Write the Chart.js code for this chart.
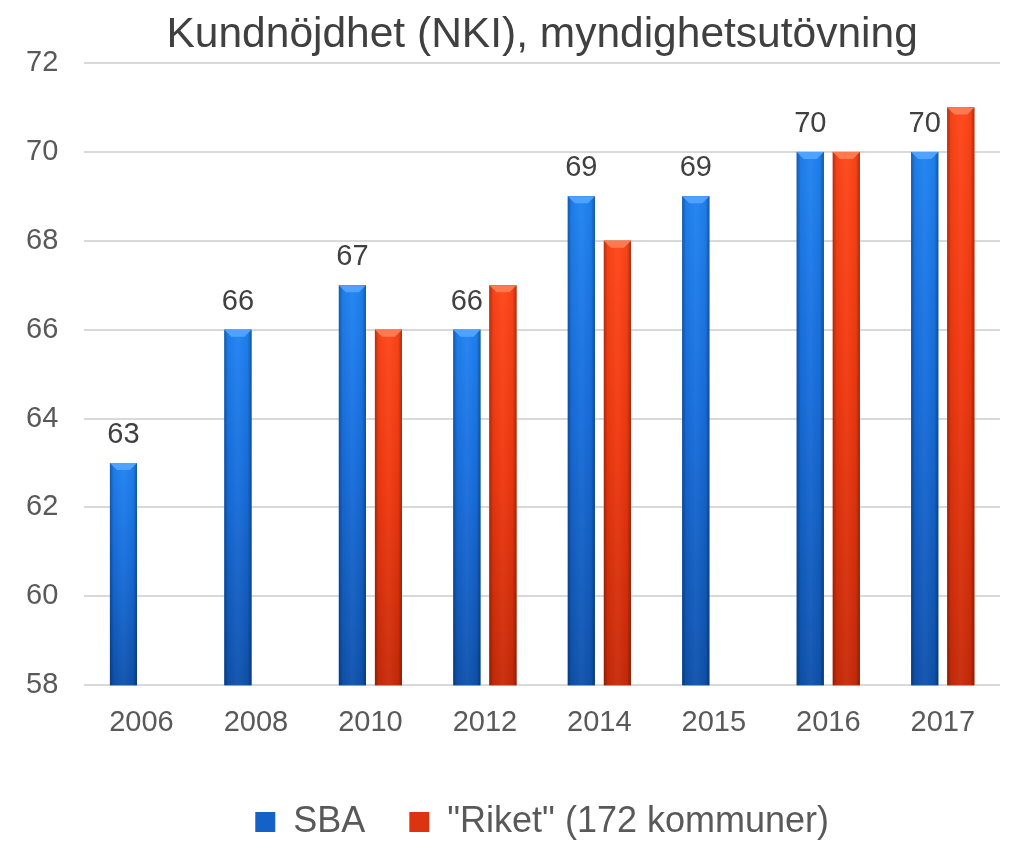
<!DOCTYPE html>
<html>
<head>
<meta charset="utf-8">
<script src="https://cdn.jsdelivr.net/npm/chart.js@4.4.0/dist/chart.umd.min.js"></script>
<style>
  html, body { margin: 0; padding: 0; background: #fff; }
  #wrap { width: 1012px; height: 842px; }
</style>
</head>
<body>
<div id="wrap"><canvas id="myChart" width="1012" height="842"></canvas></div>
<script>
const years = ['2006', '2008', '2010', '2012', '2014', '2015', '2016', '2017'];
const sbaValues = [63, 66, 67, 66, 69, 69, 70, 70];
const riketValues = [null, null, 66, 67, 68, null, 70, 71];
const yTicks = [58, 60, 62, 64, 66, 68, 70, 72];

const palette = [
  { top: '#1f82f2', mid: '#176ddc', bottom: '#0e52ad', bevel: '#4fa2ff' },
  { top: '#ff4518', mid: '#f0380f', bottom: '#c82a08', bevel: '#ff7a50' }
];

// paints the bars with a glossy gradient and a bevelled top
const bevelBars = {
  id: 'bevelBars',
  afterDatasetsDraw(chart) {
    const ctx = chart.ctx;
    const area = chart.chartArea;
    chart.data.datasets.forEach((ds, di) => {
      const meta = chart.getDatasetMeta(di);
      const c = palette[di];
      meta.data.forEach((bar, i) => {
        if (ds.data[i] == null) return;
        const w = bar.width, left = bar.x - w / 2, top = bar.y;
        const base = Math.min(bar.base, area.bottom);
        ctx.save();
        let g = ctx.createLinearGradient(0, top, 0, base);
        g.addColorStop(0, c.top);
        g.addColorStop(0.45, c.mid);
        g.addColorStop(1, c.bottom);
        ctx.fillStyle = g;
        ctx.fillRect(left, top, w, base - top);
        let h = ctx.createLinearGradient(left, 0, left + w, 0);
        h.addColorStop(0, 'rgba(0,0,0,0.3)');
        h.addColorStop(0.14, 'rgba(0,0,0,0.04)');
        h.addColorStop(0.5, 'rgba(255,255,255,0.04)');
        h.addColorStop(0.86, 'rgba(0,0,0,0.04)');
        h.addColorStop(1, 'rgba(0,0,0,0.32)');
        ctx.fillStyle = h;
        ctx.fillRect(left, top, w, base - top);
        // top bevel
        const bv = 7;
        ctx.fillStyle = c.bevel;
        ctx.beginPath();
        ctx.moveTo(left, top);
        ctx.lineTo(left + w, top);
        ctx.lineTo(left + w - bv, top + bv);
        ctx.lineTo(left + bv, top + bv);
        ctx.closePath();
        ctx.fill();
        ctx.restore();
      });
    });
  }
};

// value labels above the SBA bars
const sbaLabels = {
  id: 'sbaLabels',
  afterDatasetsDraw(chart) {
    const ctx = chart.ctx;
    const meta = chart.getDatasetMeta(0);
    ctx.save();
    ctx.font = '29px "Liberation Sans", Arial, sans-serif';
    ctx.fillStyle = '#404040';
    ctx.textAlign = 'center';
    ctx.textBaseline = 'middle';
    meta.data.forEach((bar, i) => {
      ctx.fillText(String(sbaValues[i]), bar.x, bar.y - 28);
    });
    ctx.restore();
  }
};

Chart.defaults.font.family = '"Liberation Sans", Arial, sans-serif';
Chart.defaults.color = '#595959';

const ctx = document.getElementById('myChart').getContext('2d');
const myChart = new Chart(ctx, {
  type: 'bar',
  data: {
    labels: years,
    datasets: [{
      label: 'SBA',
      data: sbaValues,
      backgroundColor: '#1462c8',
      borderWidth: 0
    }, {
      label: '"Riket" (172 kommuner)',
      data: riketValues,
      backgroundColor: '#dc3410',
      borderWidth: 0
    }]
  },
  options: {
    responsive: false,
    animation: false,
    layout: { padding: { left: 0, right: 12, top: 4, bottom: -8 } },
    datasets: {
      bar: { categoryPercentage: 0.63, barPercentage: 0.75 }
    },
    plugins: {
      title: {
        display: true,
        fullSize: false,
        text: 'Kundnöjdhet (NKI), myndighetsutövning',
        color: '#404040',
        font: { size: 42.5, weight: 'normal' },
        padding: { top: 6, bottom: 2 }
      },
      legend: {
        position: 'bottom',
        fullSize: false,
        labels: {
          boxWidth: 20,
          boxHeight: 20,
          padding: 44,
          color: '#595959',
          font: { size: 36 }
        }
      },
      tooltip: { enabled: false }
    },
    scales: {
      x: {
        grid: { display: false },
        border: { display: false },
        ticks: { font: { size: 29 }, padding: 12 },
        afterFit(axis) { axis.height += 8; }
      },
      y: {
        min: 58,
        max: 72,
        afterBuildTicks(axis) {
          axis.ticks = yTicks.map(v => ({ value: v }));
        },
        grid: { color: '#d9d9d9', lineWidth: 2, drawTicks: false },
        border: { display: false },
        ticks: { font: { size: 29 }, padding: 26 }
      }
    }
  },
  plugins: [bevelBars, sbaLabels]
});
</script>
</body>
</html>
